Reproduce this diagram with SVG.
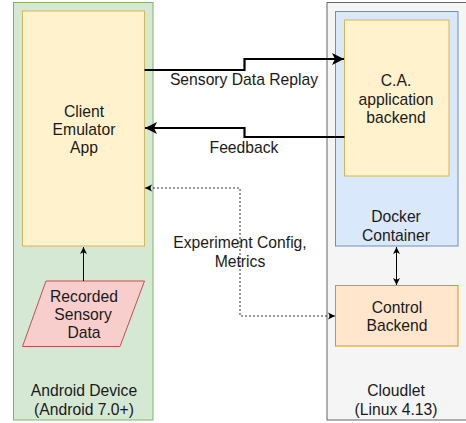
<svg xmlns="http://www.w3.org/2000/svg" width="466" height="423" viewBox="0 0 466 423">
<style>
text{font-family:"Liberation Sans",Arial,sans-serif;font-size:15.7px;fill:#1a1a1a;text-anchor:middle}
.thick{fill:none;stroke:#000;stroke-width:2.2}
.thin{fill:none;stroke:#000;stroke-width:1}
.dot{fill:none;stroke:#333;stroke-width:1;stroke-dasharray:2 2}
</style>
<defs>
<marker id="big" markerUnits="userSpaceOnUse" markerWidth="14" markerHeight="14" refX="13" refY="7" orient="auto-start-reverse"><path d="M1 1L13 7L1 13L4 7Z" fill="#000"/></marker>
<marker id="small" markerUnits="userSpaceOnUse" markerWidth="9" markerHeight="10" refX="8" refY="5" orient="auto-start-reverse"><path d="M1 1.500L8 5L1 8.500L2.800 5Z" fill="#000"/></marker>
</defs>
<g id="android-device"><rect x="13.500" y="2.500" width="139.500" height="417.500" fill="#d5e8d4" stroke="#82b366"/><text x="84" y="396">Android Device</text><text x="84" y="415">(Android 7.0+)</text></g>
<g id="client-emulator"><rect x="22.500" y="11" width="122" height="235" fill="#fff2cc" stroke="#d6b656"/><text x="84" y="117">Client</text><text x="84" y="135">Emulator</text><text x="84" y="153">App</text></g>
<g id="recorded-data"><path d="M46 281H144.500L120 346.500H22.500Z" fill="#f8cecc" stroke="#b85450"/><text x="84" y="302">Recorded</text><text x="83" y="320">Sensory</text><text x="84" y="338">Data</text></g>
<g id="cloudlet"><rect x="327" y="2.500" width="145" height="417.500" fill="#f5f5f5" stroke="#666"/><text x="396" y="396">Cloudlet</text><text x="396" y="415">(Linux 4.13)</text></g>
<g id="docker"><rect x="335.500" y="11.500" width="122.500" height="234.500" fill="#dae8fc" stroke="#6c8ebf"/><text x="396" y="222">Docker</text><text x="396" y="241">Container</text></g>
<g id="ca-backend"><rect x="344.500" y="20" width="104.500" height="156" fill="#fff2cc" stroke="#d6b656"/><text x="396" y="86">C.A.</text><text x="396" y="105">application</text><text x="396" y="123">backend</text></g>
<g id="control-backend"><rect x="335.500" y="285.500" width="122.500" height="60.500" fill="#ffe6cc" stroke="#d79b00"/><text x="397" y="313">Control</text><text x="397" y="331">Backend</text></g>
<g id="connectors">
<path class="thick" d="M144.500 70H244.500V59H344" marker-end="url(#big)"/>
<path class="thick" d="M344.500 137H244.500V128H145" marker-end="url(#big)"/>
<path class="dot" d="M145 188H240V316H335" marker-start="url(#small)" marker-end="url(#small)"/>
<path class="thin" d="M83.500 281V247" marker-end="url(#small)"/>
<path class="thin" d="M396.500 247V285" marker-start="url(#small)" marker-end="url(#small)"/>
</g>
<g id="labels"><text x="244" y="85">Sensory Data Replay</text><text x="244" y="153">Feedback</text><text x="240" y="248">Experiment Config,</text><text x="240" y="266.500">Metrics</text></g>
</svg>
